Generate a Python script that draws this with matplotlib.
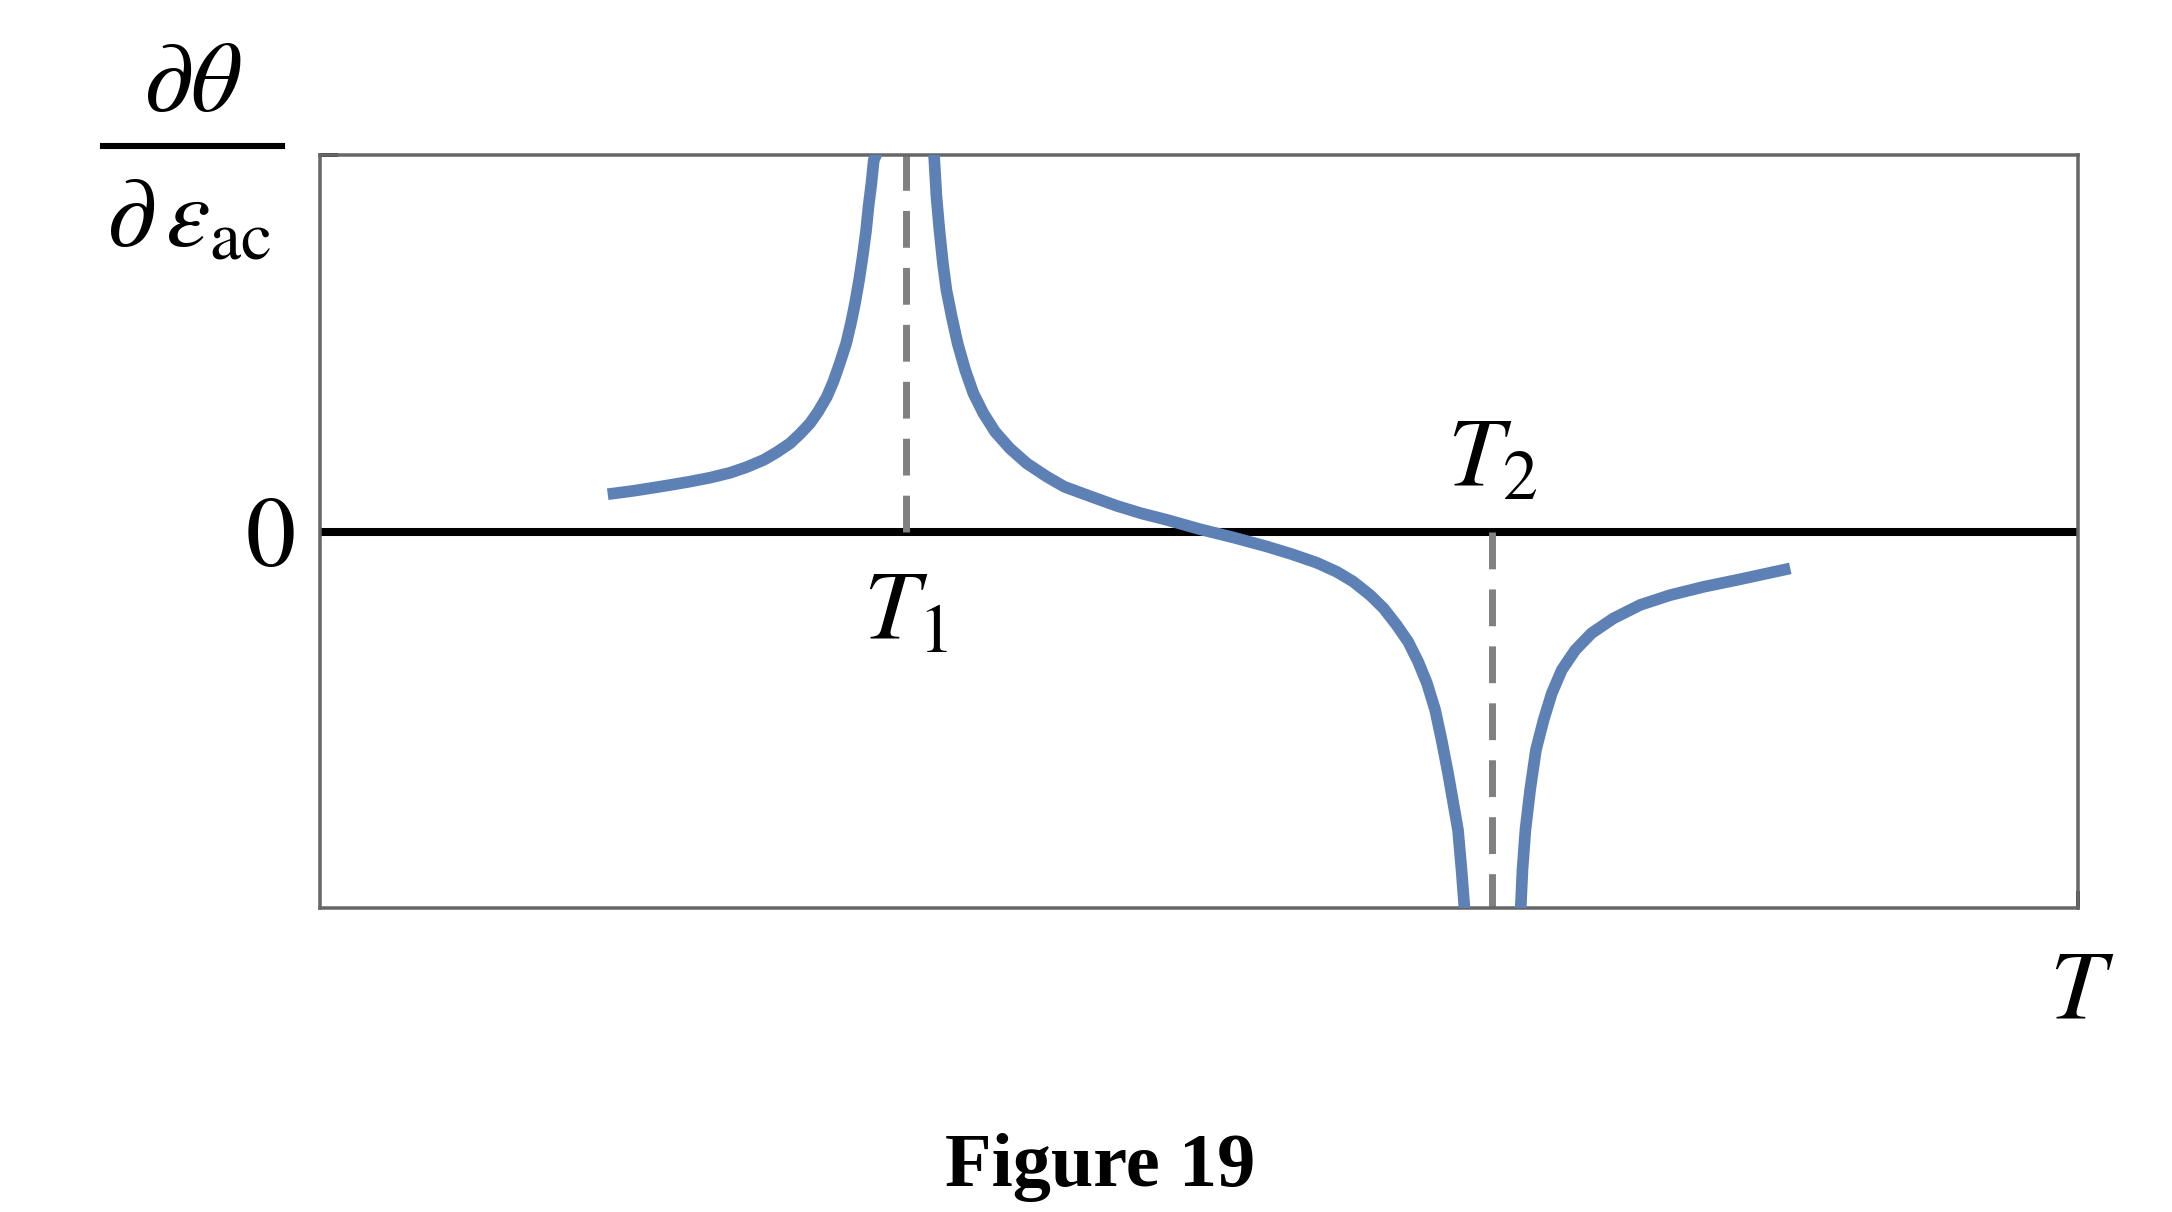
import matplotlib
matplotlib.use("Agg")
import matplotlib.pyplot as plt
from matplotlib.lines import Line2D

plt.rcParams['mathtext.fontset'] = 'stix'
plt.rcParams['font.family'] = ['STIXGeneral', 'DejaVu Serif']

# 온도 축 (T1 = 1, T2 = 2), 세로축은 -1..1 로 정규화
t1 = 1.0
t2 = 2.0
x_range = [0, 3]
y_range = [-1, 1]

# 그림에서 읽은 곡선 좌표 (세 구간)
left_x = [0.491, 0.535, 0.580, 0.626, 0.666, 0.700, 0.728, 0.757, 0.779, 0.802, 0.819,
          0.836, 0.850, 0.865, 0.876, 0.887, 0.898, 0.906, 0.913, 0.920, 0.926, 0.932,
          0.936, 0.941, 0.945, 0.949, 0.953]
left_y = [0.099, 0.108, 0.119, 0.131, 0.143, 0.156, 0.171, 0.190, 0.210, 0.234, 0.259,
          0.287, 0.318, 0.358, 0.398, 0.447, 0.500, 0.553, 0.606, 0.668, 0.730, 0.801,
          0.863, 0.925, 0.987, 1.0, 1.06]

mid_x = [1.046, 1.048, 1.052, 1.057, 1.063, 1.069, 1.078, 1.088, 1.101, 1.115, 1.132,
         1.152, 1.177, 1.206, 1.240, 1.270, 1.317, 1.360, 1.402, 1.445, 1.502, 1.559,
         1.616, 1.658, 1.701, 1.735, 1.763, 1.792, 1.815, 1.837, 1.857, 1.874, 1.889,
         1.903, 1.914, 1.925, 1.934, 1.942, 1.948, 1.953, 1.955]
mid_y = [1.06, 0.996, 0.889, 0.801, 0.712, 0.641, 0.571, 0.500, 0.429, 0.367, 0.314,
         0.265, 0.221, 0.181, 0.146, 0.119, 0.092, 0.068, 0.048, 0.031, 0.006, -0.016,
         -0.040, -0.060, -0.083, -0.107, -0.133, -0.169, -0.204, -0.248, -0.293, -0.346,
         -0.403, -0.474, -0.554, -0.642, -0.722, -0.793, -0.899, -1.0, -1.06]

right_x = [2.048, 2.049, 2.052, 2.057, 2.065, 2.075, 2.088, 2.102, 2.119, 2.142, 2.170,
           2.207, 2.253, 2.304, 2.361, 2.423, 2.509]
right_y = [-1.06, -1.0, -0.899, -0.793, -0.687, -0.580, -0.501, -0.430, -0.368, -0.315,
           -0.270, -0.231, -0.195, -0.169, -0.147, -0.127, -0.098]

W, H = 2172, 1212
fig = plt.figure(figsize=(W / 200, H / 200), dpi=200)
ax = fig.add_axes([320 / W, 1 - 908 / H, (2078 - 320) / W, (908 - 155) / H])

ax.set_xlim(x_range)
ax.set_ylim(y_range)

# 0 기준선
ax.axhline(0, color='black', lw=2.9, zorder=1)

# 특이점 점선
ax.plot([t1, t1], [0, 1], color='#808080', lw=2.5, dashes=(5.3, 2.9), zorder=2)
ax.plot([t2, t2], [0, -1], color='#808080', lw=2.5, dashes=(5.3, 2.9), zorder=2)

curve_color = '#5E81B5'
for xs, ys in [(left_x, left_y), (mid_x, mid_y), (right_x, right_y)]:
    ax.plot(xs, ys, color=curve_color, lw=4.2, solid_capstyle='butt',
            solid_joinstyle='round', zorder=3)

for s in ax.spines.values():
    s.set_color('#666666')
    s.set_linewidth(1.26)

ax.set_yticks([0, 1], ['$0$', ''])
ax.set_xticks([3], [''])
ax.tick_params(axis='y', direction='in', length=6.5, width=1.3, color='black',
               labelsize=36, pad=9)
ax.tick_params(axis='x', direction='in', length=6, width=1.3, color='black')

# 축 위 라벨
ax.text(t1, -0.288, '$T_1$', fontsize=36, ha='center', va='baseline')
ax.text(t2, 0.118, '$T_2$', fontsize=36, ha='center', va='baseline')


def fx(px):
    return px / W


def fy(py):
    return 1 - py / H


# 세로축 라벨 (분수 형태)
fig.text(fx(192), fy(111), r'$\partial\theta$', fontsize=36, ha='center', va='baseline')
fig.add_artist(Line2D([fx(103), fx(282)], [fy(146), fy(146)], color='black', lw=2.2,
                      transform=fig.transFigure))
fig.text(fx(189), fy(246), r'$\partial\,\varepsilon_{\mathrm{ac}}$', fontsize=36,
         ha='center', va='baseline')

# 가로축 라벨
fig.text(fx(2082), fy(1019), '$T$', fontsize=36, ha='center', va='baseline')

fig.text(fx(1100), fy(1186), 'Figure 19', fontsize=27.5, fontweight='bold',
         family='Liberation Serif', ha='center', va='baseline')

fig.savefig('out.png', dpi=200)
